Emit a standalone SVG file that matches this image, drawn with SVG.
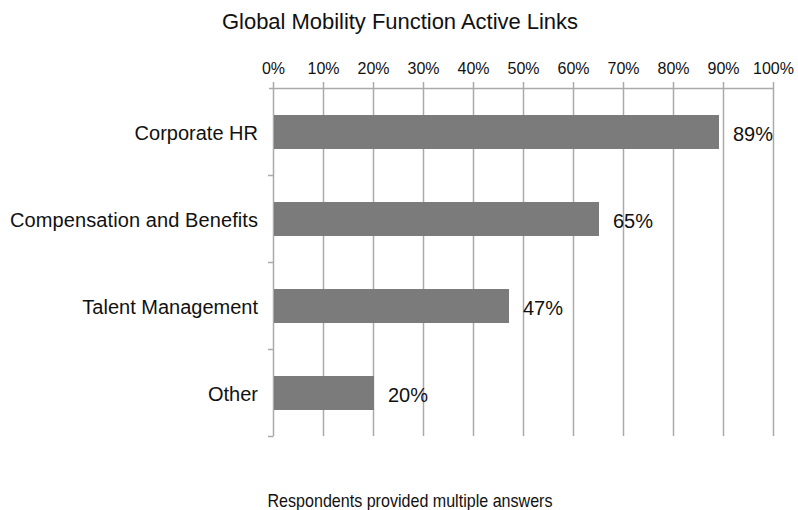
<svg xmlns="http://www.w3.org/2000/svg" width="798" height="510" viewBox="0 0 798 510">
<style>
.t{font-family:"Liberation Sans",Arial,sans-serif;fill:#111}
.ax{font-size:16px;text-anchor:middle}
.cat{font-size:20px;text-anchor:end}
.val{font-size:20px}
.g{stroke:#aaa;stroke-width:1.5;fill:none}
.bar{fill:#7b7b7c}
</style>
<rect width="798" height="510" fill="#fff"/>
<text class="t" x="400" y="29" font-size="22" text-anchor="middle" textLength="356">Global Mobility Function Active Links</text>
<g id="axis">
<g class="t ax">
<text x="273.5" y="74">0%</text>
<text x="323.5" y="74">10%</text>
<text x="373.5" y="74">20%</text>
<text x="423.5" y="74">30%</text>
<text x="473.5" y="74">40%</text>
<text x="523.5" y="74">50%</text>
<text x="573.5" y="74">60%</text>
<text x="623.5" y="74">70%</text>
<text x="673.5" y="74">80%</text>
<text x="723.5" y="74">90%</text>
<text x="773.5" y="74">100%</text>
</g>
<path class="g" d="M273.5 82V436M323.5 82V436M373.5 82V436M423.5 82V436M473.5 82V436M523.5 82V436M573.5 82V436M623.5 82V436M673.5 82V436M723.5 82V436M773.5 82V436"/>
<path class="g" d="M269 88.5H773.5M268 175.5H273.5M268 262.5H273.5M268 349.5H273.5M268 436.5H273.5"/>
</g>
<g id="bar-corporate-hr">
<rect class="bar" x="274" y="115" width="445" height="34"/>
<text class="t cat" x="258" y="140">Corporate HR</text>
<text class="t val" x="733" y="141">89%</text>
</g>
<g id="bar-compensation">
<rect class="bar" x="274" y="202" width="325" height="34"/>
<text class="t cat" x="258" y="227" textLength="248">Compensation and Benefits</text>
<text class="t val" x="613" y="228">65%</text>
</g>
<g id="bar-talent">
<rect class="bar" x="274" y="289" width="235" height="34"/>
<text class="t cat" x="258" y="314">Talent Management</text>
<text class="t val" x="523" y="315">47%</text>
</g>
<g id="bar-other">
<rect class="bar" x="274" y="376" width="100" height="34"/>
<text class="t cat" x="258" y="401">Other</text>
<text class="t val" x="388" y="402">20%</text>
</g>
<text class="t" x="410" y="507" font-size="19" text-anchor="middle" textLength="285" lengthAdjust="spacingAndGlyphs">Respondents provided multiple answers</text>
</svg>
